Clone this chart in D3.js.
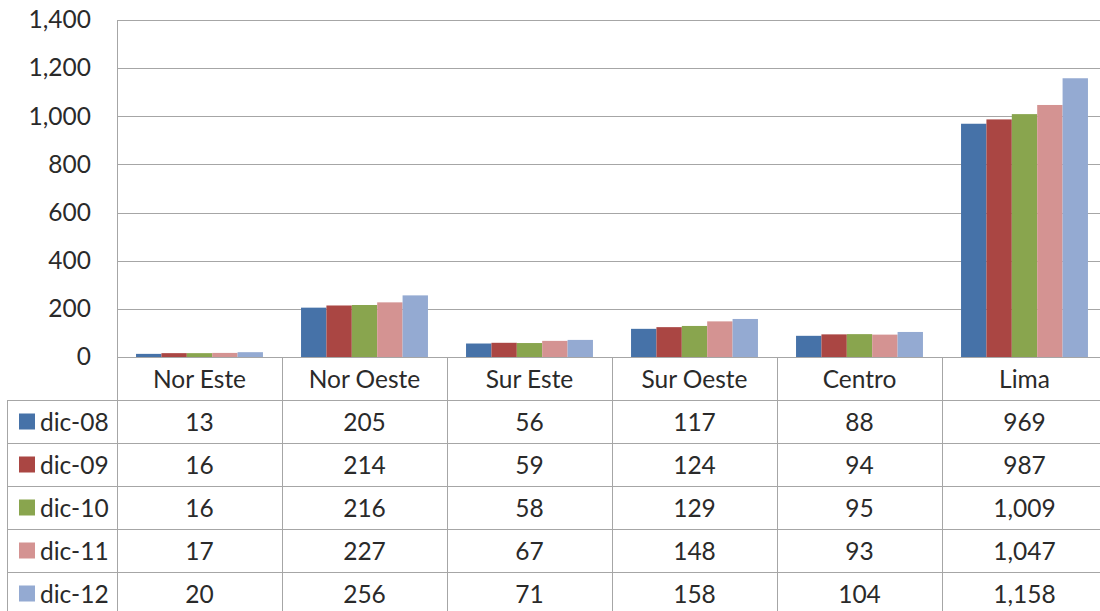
<!DOCTYPE html>
<html><head><meta charset="utf-8">
<script src="https://cdn.jsdelivr.net/npm/d3@7"></script>
<style>body{margin:0;background:#fff;} svg{display:block;}</style>
</head><body>
<script>
const categories = ["Nor Este","Nor Oeste","Sur Este","Sur Oeste","Centro","Lima"];
const seriesNames = ["dic-08","dic-09","dic-10","dic-11","dic-12"];
const dic08 = [13,205,56,117,88,969];
const dic09 = [16,214,59,124,94,987];
const dic10 = [16,216,58,129,95,1009];
const dic11 = [17,227,67,148,93,1047];
const dic12 = [20,256,71,158,104,1158];
const yTicks = [0,200,400,600,800,1000,1200,1400];
const colors = ["#4672A8","#AA4643","#89A54E","#D49392","#94AAD2"];
const series = [dic08,dic09,dic10,dic11,dic12];

const W=1100,H=611;
const svg=d3.select("body").append("svg").attr("width",W).attr("height",H);
const font="Lato, 'Open Sans', sans-serif";
const fs=24.5;
const plotL=117, plotR=117+6*165, plotT=20, plotB=357;
const tableL=7, rowH=43;
const grid="#a6a6a6", txt="#2a2a2a";

const x=d3.scaleBand().domain(categories).range([plotL,plotR]).paddingInner(0).paddingOuter(0);
// Excel gap width 150%: band = 6.5 bar widths
const bw=x.bandwidth()/6.5;
const xs=d3.scaleBand().domain(seriesNames).range([bw*0.75, bw*5.75]).padding(0);
const y=d3.scaleLinear().domain([0,1400]).range([plotB,plotT]);

// gridlines
const yAxis=d3.axisLeft(y).tickValues(yTicks).tickSize(-(plotR-plotL)).tickFormat(d3.format(","));
const ga=svg.append("g").attr("transform",`translate(${plotL},0)`).call(yAxis);
ga.select(".domain").remove();
ga.selectAll(".tick line").attr("stroke",grid).attr("stroke-width",1).attr("shape-rendering","crispEdges");
ga.selectAll(".tick text").attr("x",-26).attr("font-family",font).attr("font-size",fs).attr("fill",txt);

// bars
const groups=svg.append("g").selectAll("g").data(categories).join("g").attr("transform",d=>`translate(${x(d)},0)`);
groups.selectAll("rect").data((c,i)=>seriesNames.map((s,j)=>({s,v:series[j][i],j})))
 .join("rect").attr("x",d=>xs(d.s)).attr("width",xs.bandwidth()).attr("y",d=>y(d.v)).attr("height",d=>y(0)-y(d.v))
 .attr("fill",d=>colors[d.j]);

// table lines
const lines=svg.append("g").attr("stroke",grid).attr("stroke-width",1).attr("shape-rendering","crispEdges");
lines.append("line").attr("x1",plotL).attr("x2",plotL).attr("y1",plotT).attr("y2",H);
lines.append("line").attr("x1",plotL).attr("x2",plotR).attr("y1",plotB).attr("y2",plotB);
lines.append("line").attr("x1",tableL).attr("x2",tableL).attr("y1",plotB+rowH).attr("y2",H);
categories.forEach((c,i)=>{ if(i>0) lines.append("line").attr("x1",x(c)).attr("x2",x(c)).attr("y1",plotB).attr("y2",H); });
for(let r=1;r<=5;r++){ const yy=plotB+r*rowH; lines.append("line").attr("x1",tableL).attr("x2",plotR).attr("y1",yy).attr("y2",yy); }

// header labels
svg.append("g").selectAll("text").data(categories).join("text")
 .attr("x",d=>x(d)+x.bandwidth()/2).attr("y",plotB+rowH/2+9.5).attr("text-anchor","middle")
 .attr("font-family",font).attr("font-size",fs).attr("fill",txt).text(d=>d);

// rows
const fmt=d3.format(",");
seriesNames.forEach((s,j)=>{
  const cy=plotB+(j+1)*rowH+rowH/2;
  svg.append("rect").attr("x",19).attr("y",cy-8).attr("width",16).attr("height",16).attr("fill",colors[j]);
  svg.append("text").attr("x",40).attr("y",cy+9).attr("font-family",font).attr("font-size",fs).attr("fill",txt).text(s);
  svg.append("g").selectAll("text").data(categories).join("text")
   .attr("x",d=>x(d)+x.bandwidth()/2).attr("y",cy+9).attr("text-anchor","middle")
   .attr("font-family",font).attr("font-size",fs).attr("fill",txt).text((d,i)=>fmt(series[j][i]));
});
</script>
</body></html>
